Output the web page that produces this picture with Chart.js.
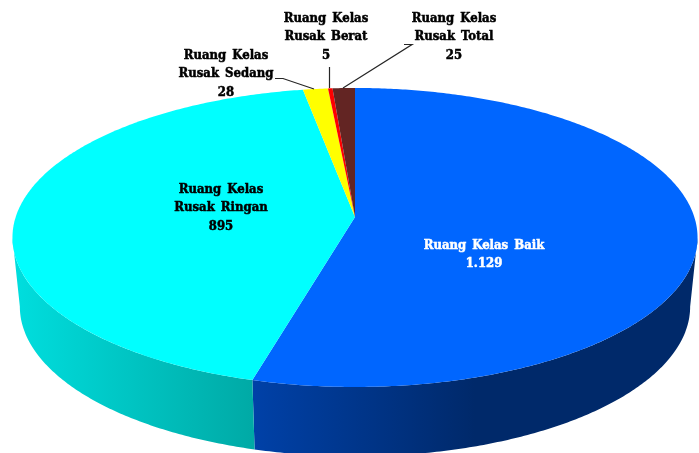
<!DOCTYPE html>
<html>
<head>
<meta charset="utf-8">
<style>
    html, body { margin: 0; padding: 0; background: #fff; overflow: hidden; }
    canvas { display: block; }
</style>
<script src="https://cdn.jsdelivr.net/npm/chart.js@4/dist/chart.umd.min.js"></script>
</head>
<body>
<canvas id="pie-chart" width="699" height="453"></canvas>
<script>
const categories = ['Ruang Kelas Baik', 'Ruang Kelas Rusak Ringan', 'Ruang Kelas Rusak Sedang', 'Ruang Kelas Rusak Berat', 'Ruang Kelas Rusak Total'];
const values = [1129, 895, 28, 5, 25];
const sliceColors = ['#0066ff', '#00ffff', '#ffff00', '#ff0000', '#632523'];

// Wall shading, left to right along the front of the disc
const wallStops = [
    [[0.36, '#0041a8'], [0.68, '#00296a'], [1, '#00296a']],
    [[0.02, '#00dede'], [0.36, '#00aaa6']],
    [[0, '#b3b300']],
    [[0, '#b30000']],
    [[0, '#431817']]
];

// Label text lines and where each label sits
const labelLines = [
    ['Ruang Kelas Baik'],
    ['Ruang Kelas', 'Rusak Ringan'],
    ['Ruang Kelas', 'Rusak Sedang'],
    ['Ruang Kelas', 'Rusak Berat'],
    ['Ruang Kelas', 'Rusak Total']
];
const labelAnchors = [[484, 245.5], [221, 189.5], [226, 55.5], [326, 18.5], [454, 18.5]];
const labelColors = ['#ffffff', '#000000', '#000000', '#000000', '#000000'];
const leaderLines = [
    null,
    null,
    [[275, 78.5], [283, 78.5], [314, 89]],
    [[329.5, 67], [329.5, 88]],
    [[404, 44.5], [412, 44.5], [343, 88]]
];

// Perspective of the disc: the near edge is larger than the far edge
const topFace = { cx: 355, cy: 217, a: 339.3, b: 146.7, k: 0.137 };
const bottomFace = { cx: 355, cy: 286, a: 332, b: 147, k: 0.137 };

function project(face, angle) {
    const u = Math.cos(angle);
    const v = -Math.sin(angle);
    const w = 1 + face.k * v;
    return [face.cx + face.a * u / w, face.cy - face.b * v / w];
}

function traceEdge(ctx, face, from, to) {
    const steps = Math.max(2, Math.ceil(Math.abs(to - from) / 0.01));
    for (let i = 0; i <= steps; i++) {
        const p = project(face, from + (to - from) * i / steps);
        ctx.lineTo(p[0], p[1]);
    }
}

function makeWallFill(ctx, stops) {
    const gradient = ctx.createLinearGradient(0, 0, 699, 0);
    stops.forEach(s => gradient.addColorStop(s[0], s[1]));
    return gradient;
}

// Replaces the flat pie drawing, angles still come from the arc elements
const pie3d = {
    id: 'pie3d',
    beforeDatasetDraw(chart, args) {
        const ctx = chart.ctx;
        const arcs = chart.getDatasetMeta(args.index).data;

        // Only the near side of the wall shows, between the two silhouette angles
        const nearFrom = Math.asin(topFace.k);
        const nearTo = Math.PI - nearFrom;
        arcs.forEach((arc, i) => {
            const from = Math.max(arc.startAngle, nearFrom);
            const to = Math.min(arc.endAngle, nearTo);
            if (to <= from) return;
            ctx.beginPath();
            traceEdge(ctx, topFace, from, to);
            traceEdge(ctx, bottomFace, to, from);
            ctx.closePath();
            ctx.fillStyle = makeWallFill(ctx, wallStops[i]);
            ctx.fill();
        });

        arcs.forEach(arc => {
            ctx.beginPath();
            ctx.moveTo(topFace.cx, topFace.cy);
            traceEdge(ctx, topFace, arc.startAngle, arc.endAngle);
            ctx.closePath();
            ctx.fillStyle = arc.options.backgroundColor;
            ctx.fill();
        });
        return false;
    },
    afterDatasetsDraw(chart) {
        const ctx = chart.ctx;
        ctx.strokeStyle = '#262626';
        ctx.lineWidth = 1.2;
        leaderLines.forEach(line => {
            if (!line) return;
            ctx.beginPath();
            line.forEach(p => ctx.lineTo(p[0], p[1]));
            ctx.stroke();
        });

        ctx.font = 'bold 13px "DejaVu Serif Condensed", "DejaVu Serif", serif';
        ctx.wordSpacing = '2px';
        ctx.textAlign = 'center';
        ctx.textBaseline = 'middle';
        ctx.lineWidth = 0.5;
        labelLines.forEach((lines, i) => {
            const rows = lines.concat(values[i].toLocaleString('id-ID'));
            ctx.fillStyle = labelColors[i];
            ctx.strokeStyle = labelColors[i];
            rows.forEach((row, r) => {
                ctx.fillText(row, labelAnchors[i][0], labelAnchors[i][1] + r * 18.5);
                ctx.strokeText(row, labelAnchors[i][0], labelAnchors[i][1] + r * 18.5);
            });
        });
    }
};

new Chart(document.getElementById('pie-chart').getContext('2d'), {
    type: 'pie',
    data: {
        labels: categories,
        datasets: [{
            data: values,
            backgroundColor: sliceColors,
            borderWidth: 0
        }]
    },
    options: {
        responsive: false,
        animation: false,
        plugins: {
            legend: { display: false },
            tooltip: { enabled: false }
        }
    },
    plugins: [pie3d]
});
</script>
</body>
</html>
